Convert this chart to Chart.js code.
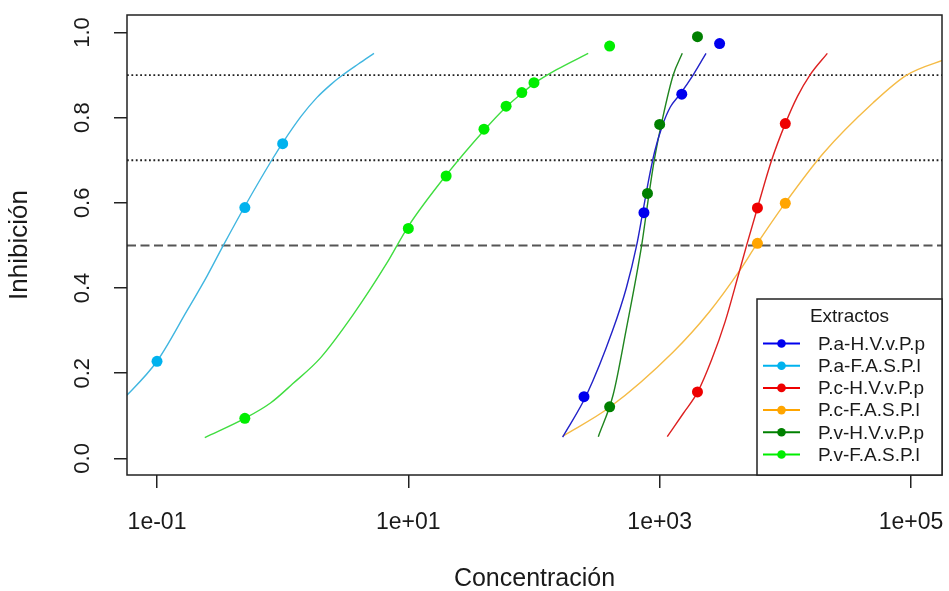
<!DOCTYPE html><html lang="es"><meta charset="utf-8">
<title>Inhibición vs Concentración</title>
<script src="https://cdn.jsdelivr.net/npm/chart.js@4.4.1"></script>

<style>
body{margin:0;background:#fff}
canvas{display:block}
</style>

<body>
<canvas id="chart" width="949" height="591"></canvas>

<script>
// ejes (estilo R)
const xTicks      = [0.1, 10, 1000, 100000];
const xTickLabels = ['1e-01', '1e+01', '1e+03', '1e+05'];
const yTicks      = [0, 0.2, 0.4, 0.6, 0.8, 1.0];
const yTickLabels = ['0.0', '0.2', '0.4', '0.6', '0.8', '1.0'];
const xMin = 0.0577, xMax = 176600;
const yMin = -0.039, yMax = 1.041;

// lineas de referencia: 0.9 y 0.7 punteadas, 0.5 discontinua
const refLevels = [0.9, 0.7, 0.5];

const legendTitle = 'Extractos';
const extractos = ['P.a-H.V.v.P.p', 'P.a-F.A.S.P.l', 'P.c-H.V.v.P.p',
                   'P.c-F.A.S.P.l', 'P.v-H.V.v.P.p', 'P.v-F.A.S.P.l'];
const colores      = ['#0000ee', '#00b2ee', '#ee0000', '#ffa500', '#008000', '#00ee00'];
const coloresCurva = ['#2222c8', '#40b6e0', '#dd2020', '#f5bb45', '#1f851f', '#40dd40'];

// puntos medidos
const paHV_x = [250, 750, 1500, 3000];
const paHV_y = [0.145, 0.577, 0.855, 0.974];
const paFA_x = [0.1, 0.5, 1];
const paFA_y = [0.228, 0.589, 0.739];
const pcHV_x = [2000, 6000, 10000];
const pcHV_y = [0.156, 0.588, 0.786];
const pcFA_x = [6000, 10000];
const pcFA_y = [0.505, 0.599];
const pvHV_x = [400, 800, 1000, 2000];
const pvHV_y = [0.121, 0.622, 0.784, 0.990];
const pvFA_x = [0.5, 10, 20, 40, 60, 80, 100, 400];
const pvFA_y = [0.094, 0.540, 0.663, 0.773, 0.827, 0.859, 0.882, 0.968];

// curvas ajustadas
const paHV_fx = [169, 263, 422, 543, 656, 733, 813, 912, 1047, 1216, 1452, 1845, 2339];
const paHV_fy = [0.05, 0.15, 0.3, 0.4, 0.5, 0.577, 0.65, 0.72, 0.78, 0.825, 0.855, 0.9, 0.951];
const paFA_fx = [0.05, 0.1, 0.172, 0.25, 0.337, 0.5, 0.818, 1, 1.4, 1.87, 2.4, 3, 4, 5.33];
const paFA_fy = [0.129, 0.228, 0.345, 0.428, 0.5, 0.592, 0.7, 0.741, 0.803, 0.847, 0.877, 0.9, 0.926, 0.951];
const pcHV_fx = [1150, 1545, 2010, 2596, 3311, 4227, 4920, 6000, 7780, 10000, 12500, 15700, 21600];
const pcHV_fy = [0.051, 0.106, 0.156, 0.232, 0.32, 0.43, 0.5, 0.588, 0.7, 0.786, 0.85, 0.9, 0.951];
const pcFA_fx = [169, 400, 1282, 2500, 4355, 5840, 10000, 20000, 50000, 92500, 200000];
const pcFA_fy = [0.052, 0.12, 0.25, 0.345, 0.442, 0.5, 0.6, 0.716, 0.835, 0.9, 0.94];
const pvHV_fx = [325, 427, 540, 719, 804, 906, 1059, 1282, 1514];
const pvHV_fy = [0.051, 0.15, 0.3, 0.5, 0.6, 0.7, 0.8, 0.9, 0.951];
const pvFA_fx = [0.24, 0.5, 0.8, 1.2, 2, 3.65, 6.7, 10, 20, 40, 60, 80, 100, 150, 270];
const pvFA_fy = [0.049, 0.094, 0.13, 0.175, 0.236, 0.338, 0.457, 0.545, 0.665, 0.77, 0.825, 0.857, 0.88, 0.912, 0.951];

const puntos = [[paHV_x, paHV_y], [paFA_x, paFA_y], [pcHV_x, pcHV_y],
                [pcFA_x, pcFA_y], [pvHV_x, pvHV_y], [pvFA_x, pvFA_y]];
const curvas = [[paHV_fx, paHV_fy], [paFA_fx, paFA_fy], [pcHV_fx, pcHV_fy],
                [pcFA_fx, pcFA_fy], [pvHV_fx, pvHV_fy], [pvFA_fx, pvFA_fy]];

const FONT = '"Liberation Sans", Arial, sans-serif';
const INK  = '#1a1a1a';
Chart.defaults.font.family = FONT;
Chart.defaults.color = INK;

const zip = (xs, ys) => xs.map((x, i) => ({x, y: ys[i]}));

const datasets = [];
refLevels.forEach(lv => {
  const dashed = lv === 0.5;
  datasets.push({
    label: 'ref' + lv, data: [{x: xMin, y: lv}, {x: xMax, y: lv}],
    showLine: true, pointRadius: 0, order: 3,
    borderColor: dashed ? '#555' : '#222', borderWidth: dashed ? 2 : 1.8,
    borderDash: dashed ? [9, 4.5] : [1.8, 2.6]
  });
});
curvas.forEach(([xs, ys], i) => datasets.push({
  label: extractos[i] + ' ajuste', data: zip(xs, ys),
  showLine: true, pointRadius: 0, borderColor: coloresCurva[i], borderWidth: 1.4,
  cubicInterpolationMode: 'monotone', order: 2
}));
puntos.forEach(([xs, ys], i) => datasets.push({
  label: extractos[i], data: zip(xs, ys),
  showLine: false, pointRadius: 5.5, pointBorderWidth: 0,
  backgroundColor: colores[i], borderColor: colores[i], order: 1
}));

/* caja alrededor del area de trazado */
const frame = {
  id: 'frame',
  afterDraw(chart) {
    const {ctx, chartArea: a} = chart;
    ctx.save();
    ctx.strokeStyle = '#222'; ctx.lineWidth = 1.5;
    ctx.strokeRect(a.left, a.top, a.right - a.left, a.bottom - a.top);
    ctx.restore();
  }
};

/* leyenda tipo R: linea + punto, abajo a la derecha */
const legendBox = {
  id: 'legendBox',
  afterDraw(chart) {
    const {ctx, chartArea: a} = chart;
    const w = 185, h = 176;
    const x0 = a.right - w, y0 = a.bottom - h;
    ctx.save();
    ctx.fillStyle = '#fff'; ctx.fillRect(x0, y0, w, h);
    ctx.strokeStyle = '#222'; ctx.lineWidth = 1.5; ctx.strokeRect(x0, y0, w, h);
    ctx.font = '19px ' + FONT;
    ctx.fillStyle = INK; ctx.textAlign = 'center'; ctx.textBaseline = 'middle';
    ctx.fillText(legendTitle, x0 + w / 2, y0 + 18);
    ctx.textAlign = 'left';
    extractos.forEach((name, i) => {
      const y = y0 + 44.5 + i * 22.2;
      ctx.strokeStyle = colores[i]; ctx.lineWidth = 2;
      ctx.beginPath(); ctx.moveTo(x0 + 6, y); ctx.lineTo(x0 + 43, y); ctx.stroke();
      ctx.fillStyle = colores[i];
      ctx.beginPath(); ctx.arc(x0 + 24.5, y, 4.3, 0, Math.PI * 2); ctx.fill();
      ctx.fillStyle = INK;
      ctx.fillText(name, x0 + 61, y + 1);
    });
    ctx.restore();
  }
};

new Chart(document.getElementById('chart'), {
  type: 'scatter',
  data: {datasets},
  plugins: [frame, legendBox],
  options: {
    animation: false,
    responsive: false,
    events: [],
    layout: {padding: {top: 15, right: 7, left: 0, bottom: 0}},
    plugins: {legend: {display: false}, tooltip: {enabled: false}},
    scales: {
      x: {
        type: 'logarithmic', min: xMin, max: xMax,
        afterBuildTicks: s => { s.ticks = xTicks.map(v => ({value: v})); },
        afterFit: s => { s.height = 116; s.paddingLeft = 0; s.paddingRight = 0; },
        border: {display: false},
        grid: {drawOnChartArea: false, drawTicks: true, tickLength: 13, color: '#222', lineWidth: 1.5},
        ticks: {autoSkip: false, maxRotation: 0, padding: 21, color: INK,
                font: {size: 23}, callback: (v, i) => xTickLabels[i]},
        title: {display: true, text: 'Concentración', color: INK,
                font: {size: 25, lineHeight: 1}, padding: {top: 0, bottom: -1}}
      },
      y: {
        min: yMin, max: yMax,
        afterBuildTicks: s => { s.ticks = yTicks.map(v => ({value: v})); },
        afterFit: s => { s.width = 127; s.paddingTop = 0; s.paddingBottom = 0; },
        border: {display: false},
        grid: {drawOnChartArea: false, drawTicks: true, tickLength: 13, color: '#222', lineWidth: 1.5},
        ticks: {minRotation: 90, maxRotation: 90, crossAlign: 'center', padding: 16, color: INK,
                font: {size: 22}, callback: (v, i) => yTickLabels[i]},
        title: {display: true, text: 'Inhibición', color: INK,
                font: {size: 26, lineHeight: 1}, padding: {top: 7, bottom: 0}}
      }
    }
  }
});
</script>
</body></html>
